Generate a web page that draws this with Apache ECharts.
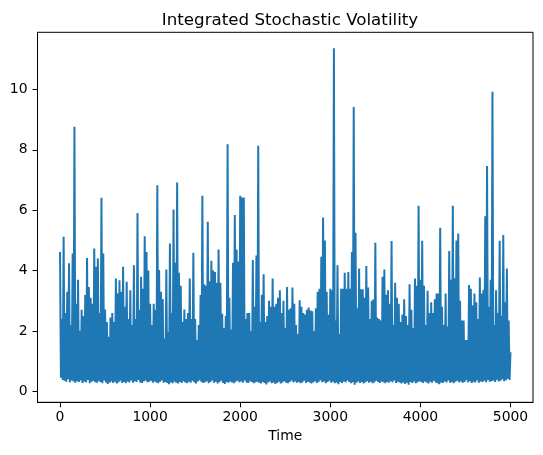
<!DOCTYPE html>
<html>
<head>
<meta charset="utf-8">
<title>Integrated Stochastic Volatility</title>
<script src="https://cdn.jsdelivr.net/npm/echarts@6/dist/echarts.min.js"></script>
<style>
  html, body { margin: 0; padding: 0; background: #fff; }
  #chart { width: 543px; height: 455px; }
</style>
</head>
<body>
<div id="chart"></div>
<script>
// Series, thinned to one pair of points every 20 time steps:
// upperVol = spike tops at t = 0, 20, 40 ... 5000
// lowerVol = troughs at t = 10, 30, 50 ... 4990
const upperVol = [
    4.62, 2.4, 5.12, 2.6, 3.3,   4.24, 2.2, 4.57, 8.76, 2.9,
    3.7, 2.0, 2.7, 2.5, 3.19,    4.42, 3.46, 3.1, 2.9, 4.73,
    4.13, 4.4, 2.6, 6.41, 4.57,  2.71, 2.3, 1.81, 2.45, 2.6,
    2.3, 3.74, 3.25, 3.68, 3.3,  4.13, 2.8, 3.63, 2.4, 3.35,
    2.2, 4.18, 2.4, 5.91, 2.7,   3.8, 3.4, 5.14, 4.62, 4.0,
    2.9, 2.2, 2.9, 2.7, 6.83,    4.02, 3.3, 3.06, 1.75, 4.04,
    1.97, 4.9, 2.6, 6.02, 4.26,  6.92, 3.93, 3.5, 2.3, 2.71,
    2.4, 2.6, 3.74, 2.4, 4.59,   2.4, 1.7, 2.2, 3.19, 6.48,
    3.55, 3.5, 5.62, 3.65, 4.33, 4.0, 3.95, 3.6, 4.7, 3.6,
    2.57, 2.1, 2.5, 8.18, 3.1,   2.05, 4.26, 5.84, 4.7, 4.3,
    6.48, 6.42, 6.42, 2.4, 2.6,  2.6, 2.0, 4.35, 2.8, 4.5,
    8.13, 2.3, 3.2, 3.88, 2.3,   2.5, 3.0, 2.8, 3.74, 2.8,
    2.9, 3.1, 3.35, 2.6, 3.0,    2.1, 3.46, 2.7, 2.75, 3.44,
    2.9, 2.2, 1.9, 3.02, 2.8,    2.6, 2.55, 2.7, 2.78, 2.68,
    2.65, 2.0, 2.75, 3.3, 3.4,   4.46, 5.76, 5.0, 3.3, 2.55,
    3.4, 3.35, 11.36, 2.35, 4.18, 1.9, 3.4, 3.4, 3.93, 3.4,
    3.95, 3.4, 4.62, 9.42, 5.25, 2.75, 4.07, 3.38, 3.38, 3.1,
    4.15, 3.44, 2.4, 3.0, 3.05,  4.92, 2.45, 2.4, 2.35, 3.8,
    4.04, 3.2, 3.35, 2.9, 4.98,  2.2, 3.6, 3.1, 2.9, 2.3,
    2.55, 3.05, 2.5, 2.2, 3.55,  2.7, 2.1, 3.74, 3.5, 6.15,
    3.7, 4.99, 3.5, 2.2, 3.33,   2.6, 2.95, 2.6, 3.05, 3.24,
    3.24, 5.42, 2.8, 2.2, 3.24,  2.15, 4.65, 3.7, 6.15, 3.75,
    5.0, 5.23, 3.0, 2.35, 2.35,  1.7, 1.7, 3.52, 3.4, 2.85,
    3.24, 2.95, 2.4, 3.77, 3.24, 3.37, 5.8, 7.46, 2.8, 3.7,
    9.92, 2.2, 3.35, 2.6, 4.99,  2.5, 5.18, 2.95, 4.07, 2.35,
    1.3
];
const lowerVol = [
    0.45, 0.38, 0.35, 0.32, 0.4, 0.3, 0.36, 0.33, 0.29, 0.34,
    0.31, 0.36, 0.28, 0.33, 0.3, 0.38, 0.27, 0.32, 0.35, 0.3,
    0.29, 0.34, 0.31, 0.27, 0.36, 0.3, 0.25, 0.29, 0.33, 0.28,
    0.32, 0.26, 0.3, 0.35, 0.28, 0.31, 0.27, 0.33, 0.3, 0.36,
    0.29, 0.34, 0.31, 0.38, 0.3, 0.28, 0.33, 0.36, 0.3, 0.32,
    0.35, 0.29, 0.33, 0.3, 0.27, 0.32, 0.36, 0.29, 0.31, 0.28,
    0.24, 0.3, 0.27, 0.33, 0.29, 0.26, 0.31, 0.28, 0.34, 0.3,
    0.27, 0.32, 0.29, 0.35, 0.3, 0.26, 0.33, 0.37, 0.31, 0.28,
    0.3, 0.34, 0.27, 0.31, 0.36, 0.29, 0.32, 0.26, 0.3, 0.35,
    0.28, 0.25, 0.31, 0.29, 0.33, 0.3, 0.27, 0.32, 0.35, 0.3,
    0.33, 0.29, 0.36, 0.3, 0.28, 0.34, 0.31, 0.27, 0.3, 0.32,
    0.29, 0.26, 0.31, 0.28, 0.23, 0.3, 0.33, 0.27, 0.3, 0.25,
    0.28, 0.32, 0.26, 0.3, 0.34, 0.29, 0.27, 0.31, 0.36, 0.3,
    0.33, 0.29, 0.31, 0.27, 0.3, 0.35, 0.28, 0.32, 0.3, 0.26,
    0.3, 0.34, 0.28, 0.31, 0.37, 0.3, 0.33, 0.27, 0.31, 0.35,
    0.29, 0.32, 0.27, 0.3, 0.24, 0.31, 0.28, 0.33, 0.3, 0.36,
    0.31, 0.27, 0.3, 0.22, 0.29, 0.33, 0.28, 0.31, 0.26, 0.3,
    0.34, 0.29, 0.32, 0.27, 0.3, 0.35, 0.31, 0.28, 0.33, 0.3,
    0.27, 0.31, 0.29, 0.34, 0.3, 0.36, 0.28, 0.32, 0.3, 0.26,
    0.3, 0.25, 0.29, 0.22, 0.31, 0.28, 0.33, 0.27, 0.3, 0.34,
    0.31, 0.28, 0.33, 0.3, 0.26, 0.32, 0.29, 0.35, 0.3, 0.27,
    0.24, 0.3, 0.28, 0.33, 0.3, 0.36, 0.29, 0.31, 0.27, 0.32,
    0.35, 0.3, 0.33, 0.29, 0.31, 0.37, 0.3, 0.34, 0.28, 0.32,
    0.3, 0.36, 0.29, 0.33, 0.31, 0.35, 0.3, 0.38, 0.32, 0.34,
    0.36, 0.31, 0.39, 0.33, 0.35, 0.4, 0.34, 0.37, 0.42, 0.38
];
const sampleStep = 10;
const xTicks = [0, 1000, 2000, 3000, 4000, 5000];
const yTicks = [0, 2, 4, 6, 8, 10];

// weave tops and troughs back into one time-ordered line
const volData = [];
upperVol.forEach((v, i) => {
    volData.push([i * 2 * sampleStep, v]);
    if (i < lowerVol.length) volData.push([(i * 2 + 1) * sampleStep, lowerVol[i]]);
});

const FONT = 'DejaVu Sans';
const chartDom = document.getElementById('chart');
const chart = echarts.init(chartDom, null, { renderer: 'canvas' });
const option = {
    animation: false,
    backgroundColor: '#ffffff',
    title: {
        text: 'Integrated Stochastic Volatility',
        left: 285,
        top: 7,
        textAlign: 'center',
        textStyle: { fontFamily: FONT, fontSize: 16.7, fontWeight: 'normal', color: '#000' }
    },
    grid: {
        left: 37.5, right: 10, top: 32.3, bottom: 52.7,
        show: true, borderColor: '#000', borderWidth: 1, backgroundColor: 'transparent'
    },
    xAxis: {
        type: 'value',
        min: -250,
        max: 5250,
        name: 'Time',
        nameLocation: 'middle',
        nameGap: 27,
        nameTextStyle: { fontFamily: FONT, fontSize: 13.9, color: '#000' },
        axisLine: { show: true, onZero: false, lineStyle: { color: '#000', width: 1 } },
        axisTick: { show: true, length: 5, customValues: xTicks, lineStyle: { color: '#000' } },
        axisLabel: {
            customValues: xTicks, margin: 8, formatter: (v) => String(v),
            fontFamily: FONT, fontSize: 13.9, color: '#000'
        },
        splitLine: { show: false }
    },
    yAxis: {
        type: 'value',
        min: -0.36,
        max: 11.89,
        axisLine: { show: true, onZero: false, lineStyle: { color: '#000', width: 1 } },
        axisTick: { show: true, length: 5, customValues: yTicks, lineStyle: { color: '#000' } },
        axisLabel: {
            customValues: yTicks, margin: 10, formatter: (v) => String(v),
            fontFamily: FONT, fontSize: 13.9, color: '#000'
        },
        splitLine: { show: false }
    },
    series: [
        {
            name: 'Integrated Volatility',
            type: 'line',
            data: volData,
            showSymbol: false,
            symbol: 'none',
            sampling: false,
            lineStyle: { color: '#1f77b4', width: 2 },
            itemStyle: { color: '#1f77b4' }
        }
    ]
};
chart.setOption(option);
window.addEventListener('resize', () => chart.resize());
</script>
</body>
</html>
